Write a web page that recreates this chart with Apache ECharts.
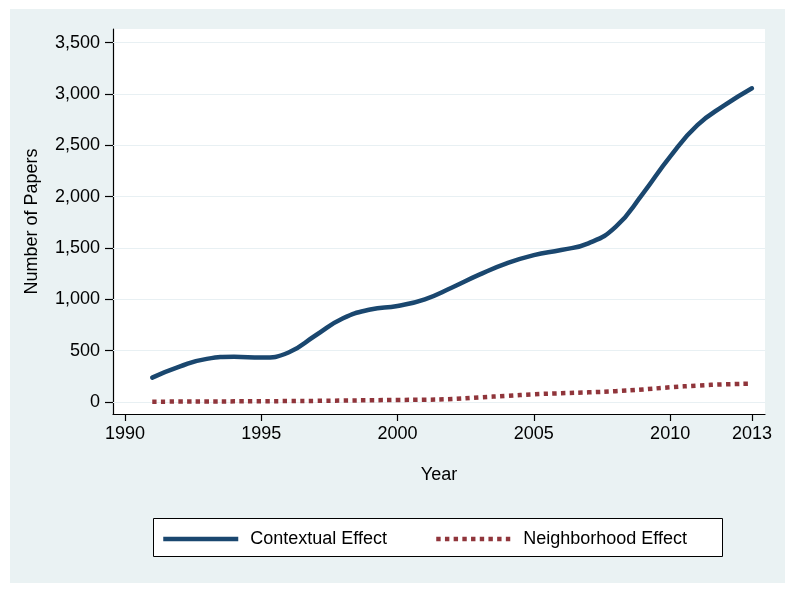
<!DOCTYPE html>
<html>
<head>
<meta charset="utf-8">
<script src="https://cdn.jsdelivr.net/npm/echarts@6/dist/echarts.min.js"></script>
<style>
html,body{margin:0;padding:0;background:#fff;}
#chart{width:795px;height:593px;}
</style>
</head>
<body>
<div id="chart"></div>
<script>
const years = [1991,1992,1993,1994,1995,1996,1997,1998,1999,2000,2001,2002,2003,2004,2005,2006,2007,2008,2009,2010,2011,2012,2013];
const contextual = [237,344,420,440,432,482,650,815,900,935,1000,1115,1240,1350,1430,1480,1545,1705,2030,2390,2695,2890,3055];
const neighborhood = [3,4,5,6,7,9,11,14,17,20,22,29,45,60,75,85,94,105,122,143,160,172,178];
const xTicks = [1990,1995,2000,2005,2010,2013];
const yTicks = [0,500,1000,1500,2000,2500,3000,3500];
const seriesNames = ['Contextual Effect','Neighborhood Effect'];

const FONT = '"Liberation Sans", Arial, Helvetica, sans-serif';
const NAVY = '#1a476f';
const MAROON = '#90353b';
const DOTS = [4.4,4.3];

const chart = echarts.init(document.getElementById('chart'));
const pairs = (xs, ys) => xs.map((x, i) => [x, ys[i]]);
const legendText = {fontFamily:FONT, fontSize:18, color:'#000', padding:[0,0,0,7]};

chart.setOption({
  backgroundColor: '#fff',
  animation: false,
  graphic: [
    {type:'rect', z:-100, silent:true, shape:{x:10,y:9,width:775,height:574}, style:{fill:'#eaf2f3'}},
    {type:'rect', z:1, silent:true, shape:{x:153.5,y:518.5,width:569,height:38}, style:{fill:'#fff', stroke:'#000', lineWidth:1}}
  ],
  grid: {left:113, right:30, top:29, bottom:179, show:true, backgroundColor:'#fff', borderWidth:0, containLabel:false},
  xAxis: {
    type:'value', min:1989.56, max:2013.48,
    name:'Year', nameLocation:'middle', nameGap:52,
    nameTextStyle:{fontFamily:FONT, fontSize:18, color:'#000'},
    axisLine:{show:true, onZero:false, lineStyle:{color:'#000', width:1.2}},
    axisTick:{show:true, length:7, customValues:xTicks, lineStyle:{color:'#000', width:1.2}},
    axisLabel:{customValues:xTicks, margin:11, fontFamily:FONT, fontSize:18, color:'#000',
      formatter: v => String(v)},
    splitLine:{show:false}
  },
  yAxis: {
    type:'value', min:-117, max:3632,
    name:'Number of Papers', nameLocation:'middle', nameGap:72,
    nameTextStyle:{fontFamily:FONT, fontSize:18, color:'#000'},
    axisLine:{show:true, onZero:false, lineStyle:{color:'#000', width:1.2}},
    axisTick:{show:true, length:8, customValues:yTicks, lineStyle:{color:'#000', width:1.2}},
    axisLabel:{customValues:yTicks, margin:13, fontFamily:FONT, fontSize:18, color:'#000',
      formatter: v => Number(v).toLocaleString('en-US')},
    splitLine:{show:false}
  },
  legend: [
    {left:161, top:530, padding:0, itemWidth:75, itemHeight:14, data:[seriesNames[0]],
     itemStyle:{opacity:0}, lineStyle:{width:4.5, color:NAVY, type:'solid', cap:'butt'},
     textStyle:legendText},
    {left:434, top:530, padding:0, itemWidth:75, itemHeight:14, data:[seriesNames[1]],
     itemStyle:{opacity:0}, lineStyle:{width:4.5, color:MAROON, type:DOTS, cap:'butt'},
     textStyle:legendText}
  ],
  series: [
    {
      name:seriesNames[0], type:'line', data:pairs(years, contextual),
      smooth:0.5, showSymbol:false, symbol:'none', z:3,
      lineStyle:{color:NAVY, width:4.5, cap:'round'}, itemStyle:{color:NAVY},
      markLine:{silent:true, symbol:'none', label:{show:false}, z:1,
        lineStyle:{color:'#e8f0f3', width:1.2, type:'solid'},
        data: yTicks.map(v => ({yAxis:v}))}
    },
    {
      name:seriesNames[1], type:'line', data:pairs(years, neighborhood),
      smooth:0.5, showSymbol:false, symbol:'none', z:3,
      lineStyle:{color:MAROON, width:4.5, type:DOTS, cap:'butt'}, itemStyle:{color:MAROON}
    }
  ]
});
</script>
</body>
</html>
